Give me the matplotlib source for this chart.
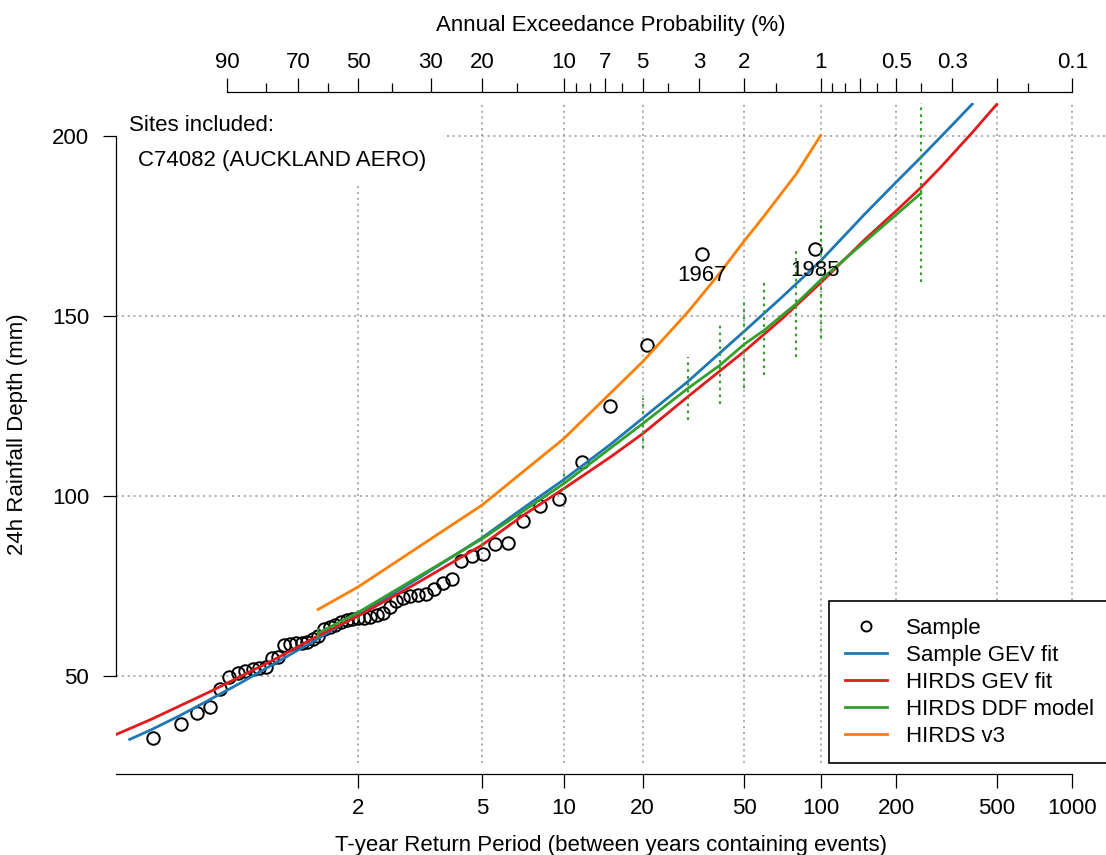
import numpy as np
import matplotlib
matplotlib.use("Agg")
import matplotlib.pyplot as plt
from matplotlib.patches import Rectangle
from matplotlib.ticker import NullLocator

plt.rcParams['font.family'] = ['Liberation Sans', 'DejaVu Sans']

# ==========================
# DATA
# ==========================
# annual maxima, sorted ascending, with their return periods (years)
sample_T = [1.0107, 1.0303, 1.0506, 1.0718, 1.0939, 1.1169, 1.1409, 1.1659, 1.1921, 1.2195,
            1.2481, 1.2781, 1.3097, 1.3428, 1.3776, 1.4143, 1.4530, 1.4938, 1.5370, 1.5828,
            1.6315, 1.6831, 1.7382, 1.7970, 1.8599, 1.9274, 2.0000, 2.0783, 2.1629, 2.2547,
            2.3546, 2.4638, 2.5836, 2.7158, 2.8621, 3.0251, 3.2077, 3.4139, 3.6483, 3.9174,
            4.2292, 4.5952, 5.0302, 5.5565, 6.2058, 7.0264, 8.0978, 9.5539, 11.650, 14.921,
            20.751, 34.048, 94.857]
sample_depth = [32.6, 36.6, 39.7, 41.2, 46.3, 49.7, 50.8, 51.3, 52.0, 52.2,
                52.5, 54.8, 55.1, 58.5, 58.7, 59.0, 59.2, 59.4, 60.1, 61.0,
                62.9, 63.4, 64.2, 64.9, 65.4, 65.7, 65.9, 66.0, 66.2, 66.9,
                67.5, 69.0, 70.7, 71.5, 72.1, 72.4, 72.7, 74.0, 75.7, 77.0,
                81.8, 83.2, 83.9, 86.6, 86.9, 92.9, 97.1, 99.0, 109.4, 125.0,
                141.9, 167.1, 168.5]
labelled_years = {51: "1967", 52: "1985"}

# Sample GEV fit
gev_T = [1.0036, 1.01, 1.03, 1.07, 1.15, 1.3, 1.58, 2, 3, 5, 7, 10, 15, 20, 30, 50, 70,
         100, 150, 200, 250, 300, 400]
gev_depth = [32.3, 35.0, 39.0, 43.2, 48.0, 53.7, 60.3, 67.0, 76.8, 88.3, 96.4, 104.5, 114.2,
             121.5, 131.7, 145.7, 155.0, 165.2, 178.3, 187.2, 194.0, 199.7, 208.8]

# HIRDS GEV fit
hgev_T = [1.0015, 1.01, 1.03, 1.07, 1.15, 1.3, 1.58, 2, 3, 5, 7, 10, 15, 20, 30, 50, 70,
          100, 150, 200, 250, 300, 400, 500]
hgev_depth = [33.4, 37.9, 41.7, 45.4, 49.8, 54.8, 61.1, 66.6, 75.7, 86.3, 94.4, 102.0, 110.7,
              117.2, 127.5, 140.1, 149.0, 159.1, 171.2, 179.2, 185.6, 191.3, 200.9, 208.7]

# HIRDS DDF model with its interval
ddf_T = [1.58, 2, 5, 10, 20, 30, 40, 50, 60, 80, 100, 250]
ddf_depth = [61.8, 67.6, 88.0, 103.4, 120.0, 129.8, 136.2, 142.1, 146.0, 153.3, 159.9, 184.0]
ddf_lower = [60.5, 65.5, 86.0, 101.5, 113.2, 121.0, 125.4, 129.8, 133.6, 138.6, 143.7, 159.4]
ddf_upper = [63.8, 69.0, 91.5, 107.5, 127.0, 138.6, 147.4, 154.4, 159.9, 169.2, 176.6, 214.0]

# HIRDS v3
v3_T = [1.58, 2, 5, 10, 20, 30, 40, 50, 60, 80, 100]
v3_depth = [68.4, 74.7, 97.4, 115.9, 137.2, 151.0, 161.8, 170.8, 177.8, 189.3, 200.0]

bottom_ticks = [2, 5, 10, 20, 50, 100, 200, 500, 1000]
y_ticks = [50, 100, 150, 200]
aep_major = [90, 70, 50, 30, 20, 10, 7, 5, 3, 2, 1, 0.7, 0.5, 0.3, 0.2, 0.1]
aep_major_labels = ["90", "70", "50", "30", "20", "10", "7", "5", "3", "2", "1", "",
                    "0.5", "0.3", "", "0.1"]
aep_minor = [80, 60, 40, 15, 9, 8, 6, 4, 1.5, 0.9, 0.8, 0.6, 0.4, 0.15]

BLUE, RED, GREEN, ORANGE = "#1F78B4", "#E31A1C", "#33A02C", "#FF7F00"
FS = 16


# Gumbel reduced variate scale
def gumbel(T):
    T = np.asarray(T, dtype=float)
    with np.errstate(divide="ignore", invalid="ignore"):
        return -np.log(-np.log(1.0 - 1.0 / T))


def gumbel_inv(g):
    g = np.asarray(g, dtype=float)
    with np.errstate(divide="ignore", invalid="ignore", over="ignore"):
        return 1.0 / (1.0 - np.exp(-np.exp(-g)))


# ==========================
# PLOT
# ==========================
W, H = 1106, 855
fig = plt.figure(figsize=(W / 100, H / 100), dpi=100)
ax = fig.add_axes([116 / W, (H - 763) / H, 993.2 / W, 659.7 / H])
ax.set_xscale("function", functions=(gumbel, gumbel_inv))
xlim = (float(gumbel_inv(-1.853)), float(gumbel_inv(7.244)))
ax.set_xlim(xlim)
ax.set_ylim(25.75, 209.0)

grid_kw = dict(color="#9a9a9a", lw=1.1, linestyle=(0, (1.4, 2.4)))
ax.set_axisbelow(True)
ax.grid(True, which="major", **grid_kw)

# white box behind the site text
ax.add_patch(Rectangle((0, 0.876), 0.329, 0.121, transform=ax.transAxes,
                       facecolor="white", edgecolor="none", zorder=1))
ax.text(0.0131, 0.967, "Sites included:", transform=ax.transAxes, fontsize=FS,
        ha="left", va="center", zorder=3)
ax.text(0.0222, 0.913, "C74082 (AUCKLAND AERO)", transform=ax.transAxes, fontsize=FS,
        ha="left", va="center", zorder=3)

h_s, = ax.plot(sample_T, sample_depth, "o", mfc="none", mec="black", ms=9, mew=1.4,
               zorder=3, label="Sample")
h_b, = ax.plot(gev_T, gev_depth, color=BLUE, lw=2, zorder=4, label="Sample GEV fit")
h_r, = ax.plot(hgev_T, hgev_depth, color=RED, lw=2, zorder=4, label="HIRDS GEV fit")
h_g, = ax.plot(ddf_T, ddf_depth, color=GREEN, lw=2, zorder=5, label="HIRDS DDF model")
ax.vlines(ddf_T, ddf_lower, ddf_upper, colors=GREEN, lw=1.5,
          linestyles=[(0, (1.3, 2.0))], zorder=5)
h_o, = ax.plot(v3_T, v3_depth, color=ORANGE, lw=2, zorder=5, label="HIRDS v3")

for i, yr in labelled_years.items():
    ax.annotate(yr, (sample_T[i], sample_depth[i]), xytext=(0, -15.5),
                textcoords="offset points", ha="center", va="center", fontsize=FS, zorder=6)

# bottom / left axes
ax.spines["top"].set_visible(False)
ax.spines["right"].set_visible(False)
ax.spines["bottom"].set_position(("outward", 7.9))
ax.spines["bottom"].set_bounds(xlim[0], 1000)
ax.spines["left"].set_bounds(50, 200)
for s in ("bottom", "left"):
    ax.spines[s].set_linewidth(0.9)
ax.set_xticks(bottom_ticks, [str(t) for t in bottom_ticks])
ax.xaxis.set_minor_locator(NullLocator())
ax.set_yticks(y_ticks, [str(t) for t in y_ticks])
ax.tick_params(axis="x", length=10, width=0.9, pad=7.5, labelsize=FS)
ax.tick_params(axis="y", length=9.4, width=0.9, pad=10, labelsize=FS)

# top axis in annual exceedance probability
ax_top = ax.twiny()
ax_top.set_xscale("function", functions=(gumbel, gumbel_inv))
ax_top.set_xlim(xlim)
for s in ("left", "right", "bottom"):
    ax_top.spines[s].set_visible(False)
ax_top.spines["top"].set_position(("outward", 7.9))
ax_top.spines["top"].set_bounds(100 / 90, 1000)
ax_top.spines["top"].set_linewidth(0.9)
ax_top.set_xticks([100 / p for p in aep_major], aep_major_labels)
ax_top.set_xticks([100 / p for p in aep_minor], minor=True)
ax_top.tick_params(axis="x", which="major", length=9.8, width=0.9, pad=4, labelsize=FS)
ax_top.tick_params(axis="x", which="minor", length=6.5, width=0.9)

leg = ax.legend([h_s, h_b, h_r, h_g, h_o],
                ["Sample", "Sample GEV fit", "HIRDS GEV fit", "HIRDS DDF model", "HIRDS v3"],
                loc="lower right", bbox_to_anchor=(1, 0), borderaxespad=0, fontsize=FS,
                frameon=True, fancybox=False, edgecolor="black", framealpha=1,
                handlelength=1.9, handletextpad=0.85, labelspacing=0.2, handleheight=1.0,
                borderpad=0.7, markerscale=0.8)
leg.get_frame().set_linewidth(1.2)
leg.set_zorder(10)

fig.text(611 / W, 1 - 25 / H, "Annual Exceedance Probability (%)", fontsize=FS,
         ha="center", va="center")
fig.text(611 / W, 1 - 845 / H, "T-year Return Period (between years containing events)",
         fontsize=FS, ha="center", va="center")
fig.text(18 / W, 1 - 434 / H, "24h Rainfall Depth (mm)", fontsize=FS, rotation=90,
         ha="center", va="center")

fig.savefig("out.png", dpi=100)
